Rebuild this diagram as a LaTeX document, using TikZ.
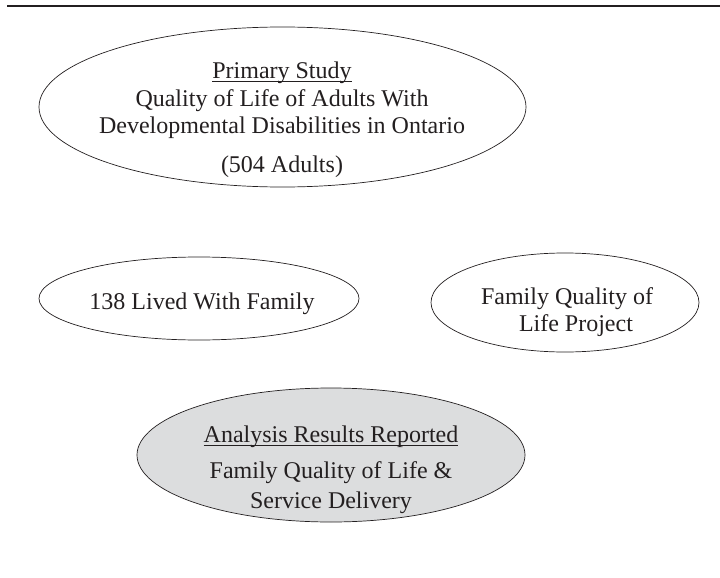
\documentclass[tikz,border=0pt]{standalone}
\usepackage{fontspec}
\setmainfont{Liberation Serif}
\usepackage{tikz}
\usetikzlibrary{shapes.geometric}

\definecolor{inkgray}{HTML}{231F20}
\definecolor{shadegray}{HTML}{DCDDDE}

% underline that runs through the descenders
\newcommand{\headline}[1]{\setbox0\hbox{#1}\rlap{\rule[-3.5pt]{\wd0}{0.9pt}}\box0}

\tikzset{
    oval/.style={ellipse, draw=inkgray, line width=0.7pt, inner sep=0pt},
    ovaltext/.style={align=center, inner sep=0pt, text=inkgray, font=\fontsize{24}{27.5}\selectfont}
}

\begin{document}
\begin{tikzpicture}[x=1pt, y=-1pt]
    \useasboundingbox (0,0) rectangle (720,578);

    % Draw the rule across the top
    \draw[line width=1.3pt, inkgray] (7,6) -- (720,6);

    % Draw the ovals
    \node[oval, minimum width=487pt, minimum height=160pt] (primary) at (282.5,107) {};
    \node[oval, minimum width=320pt, minimum height=83pt] (family) at (199,298.5) {};
    \node[oval, minimum width=268pt, minimum height=99pt] (project) at (565,302.5) {};
    \node[oval, fill=shadegray, minimum width=388pt, minimum height=134pt] (results) at (331,455) {};

    % Put the text in each oval
    \node[ovaltext] (primarytext) at (282,120) {\headline{Primary Study}\\
        Quality of Life of Adults With\\
        Developmental Disabilities in Ontario\\[11.5pt]
        (504 Adults)};
    \node[ovaltext] (familytext) at (202,303.4) {138 Lived With Family};
    \node[ovaltext] (projecttext) at (567,312) {Family Quality of\\
        \hspace*{18pt}Life Project};
    \node[ovaltext] (resultstext) at (331,469.4) {\headline{Analysis Results Reported}\\[8.5pt]
        Family Quality of Life \&\\[2.5pt]
        Service Delivery};

\end{tikzpicture}
\end{document}
